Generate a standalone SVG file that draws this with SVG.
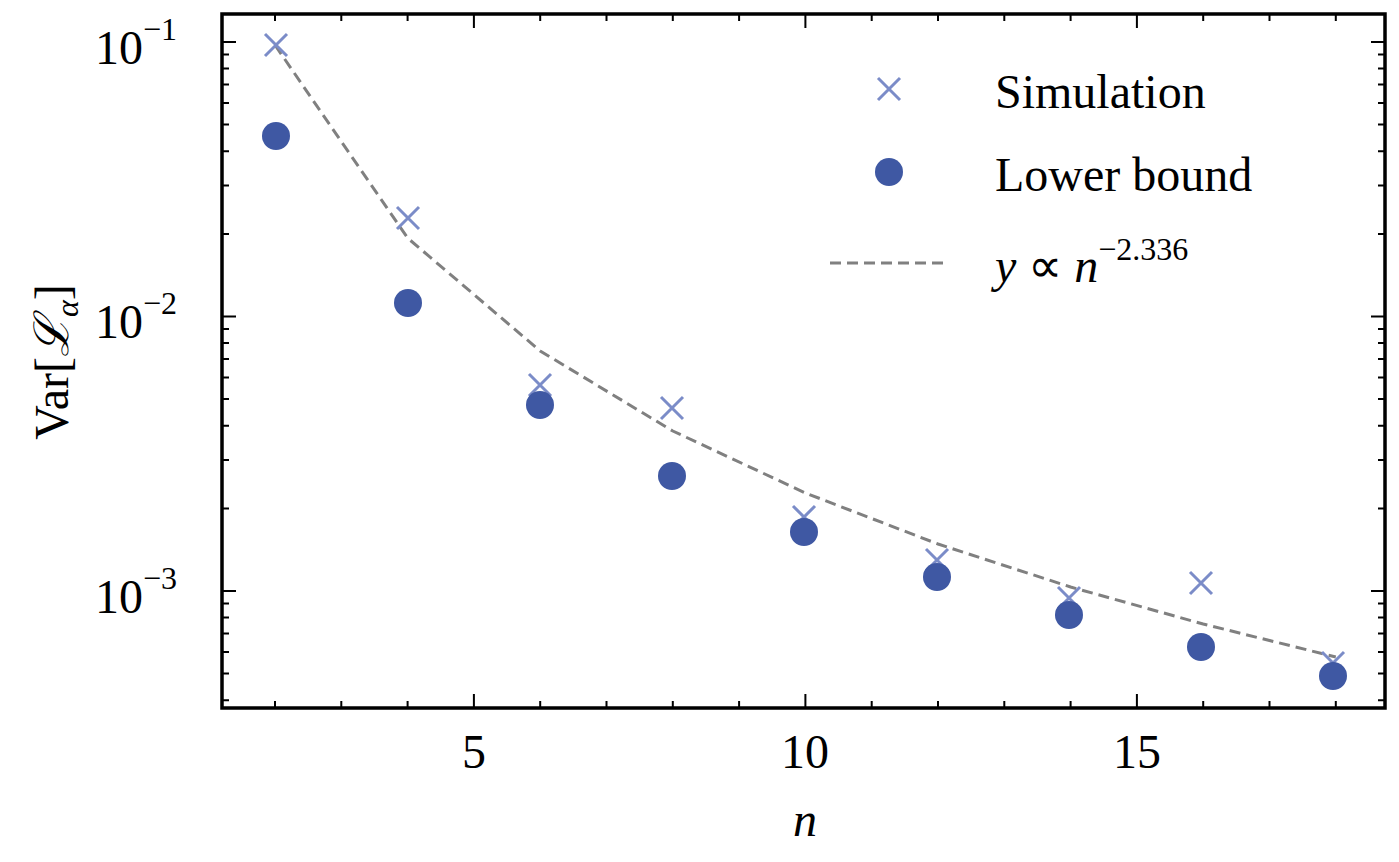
<svg xmlns="http://www.w3.org/2000/svg" width="1399" height="862" viewBox="0 0 1399 862">
<style>
.t{font-family:"Liberation Serif",serif;font-size:48px;fill:#000}
.s{font-size:32px}
.tk{stroke:#000;stroke-width:2;fill:none}
.cr{stroke:#7b8cc8;stroke-width:3;fill:none}
.dot{fill:#3f58a3}
</style>
<defs>
<path id="x" d="M-11,-11L11,11M-11,11L11,-11" class="cr"/>
</defs>
<rect width="1399" height="862" fill="#fff"/>
<g id="ticks" class="tk">
<path d="M473.9,708v-14M805.4,708v-14M1136.9,708v-14M473.9,14v14M805.4,14v14M1136.9,14v14"/>
<path d="M275,708v-7M341.3,708v-7M407.6,708v-7M540.2,708v-7M606.5,708v-7M672.8,708v-7M739.1,708v-7M871.7,708v-7M938,708v-7M1004.3,708v-7M1070.6,708v-7M1203.2,708v-7M1269.5,708v-7M1335.8,708v-7"/>
<path d="M275,14v7M341.3,14v7M407.6,14v7M540.2,14v7M606.5,14v7M672.8,14v7M739.1,14v7M871.7,14v7M938,14v7M1004.3,14v7M1070.6,14v7M1203.2,14v7M1269.5,14v7M1335.8,14v7"/>
<path d="M222,42h14M222,316.5h14M222,591h14M1385,42h-14M1385,316.5h-14M1385,591h-14"/>
<path d="M222,233.9h7M222,185.5h7M222,151.2h7M222,124.6h7M222,102.9h7M222,84.5h7M222,68.6h7M222,54.6h7M222,508.4h7M222,460h7M222,425.7h7M222,399.1h7M222,377.4h7M222,359h7M222,343.1h7M222,329.1h7M222,700.2h7M222,673.6h7M222,651.9h7M222,633.5h7M222,617.6h7M222,603.6h7"/>
<path d="M1385,233.9h-7M1385,185.5h-7M1385,151.2h-7M1385,124.6h-7M1385,102.9h-7M1385,84.5h-7M1385,68.6h-7M1385,54.6h-7M1385,508.4h-7M1385,460h-7M1385,425.7h-7M1385,399.1h-7M1385,377.4h-7M1385,359h-7M1385,343.1h-7M1385,329.1h-7M1385,700.2h-7M1385,673.6h-7M1385,651.9h-7M1385,633.5h-7M1385,617.6h-7M1385,603.6h-7"/>
</g>
<g id="fit">
<polyline points="275,45 407.6,238 540.2,351 672.8,431 805.4,493 938,544 1070.6,587 1203.2,624 1335.8,657" fill="none" stroke="#808080" stroke-width="3" stroke-dasharray="11,6"/>
</g>
<g id="simulation">
<use href="#x" x="276" y="45"/><use href="#x" x="408" y="218"/><use href="#x" x="540" y="385"/><use href="#x" x="672" y="408"/><use href="#x" x="804" y="517"/><use href="#x" x="937" y="560"/><use href="#x" x="1069" y="598"/><use href="#x" x="1201" y="583"/><use href="#x" x="1333" y="663"/>
</g>
<g id="bound" class="dot">
<circle cx="276" cy="136" r="14"/><circle cx="408" cy="303" r="14"/><circle cx="540" cy="405" r="14"/><circle cx="672" cy="476" r="14"/><circle cx="804" cy="532" r="14"/><circle cx="937" cy="577" r="14"/><circle cx="1069" cy="615" r="14"/><circle cx="1201" cy="647" r="14"/><circle cx="1333" cy="676" r="14"/>
</g>
<rect x="222" y="14" width="1163" height="694" fill="none" stroke="#000" stroke-width="3.5"/>
<g id="legend">
<use href="#x" x="889" y="89"/>
<text class="t" x="995" y="108">Simulation</text>
<circle class="dot" cx="889" cy="172" r="14"/>
<text class="t" x="995" y="191">Lower bound</text>
<line x1="830" y1="263" x2="945" y2="263" stroke="#808080" stroke-width="3" stroke-dasharray="11,6"/>
<text class="t" x="995" y="282"><tspan font-style="italic">y</tspan> ∝ <tspan font-style="italic">n</tspan><tspan class="s" dy="-22">−2.336</tspan></text>
</g>
<g id="axes-labels">
<text class="t" x="95" y="64">10<tspan class="s" dy="-24">−1</tspan></text>
<text class="t" x="95" y="338">10<tspan class="s" dy="-24">−2</tspan></text>
<text class="t" x="95" y="613">10<tspan class="s" dy="-24">−3</tspan></text>
<text class="t" x="474" y="768" text-anchor="middle">5</text>
<text class="t" x="805" y="768" text-anchor="middle">10</text>
<text class="t" x="1137" y="768" text-anchor="middle">15</text>
<text class="t" x="805" y="836" text-anchor="middle" font-style="italic">n</text>
<text class="t" transform="translate(68,362) rotate(-90)" text-anchor="middle">Var[<tspan font-style="italic">ℒ</tspan><tspan class="s" dy="10" font-style="italic">α</tspan><tspan dy="-10">]</tspan></text>
</g>
</svg>
